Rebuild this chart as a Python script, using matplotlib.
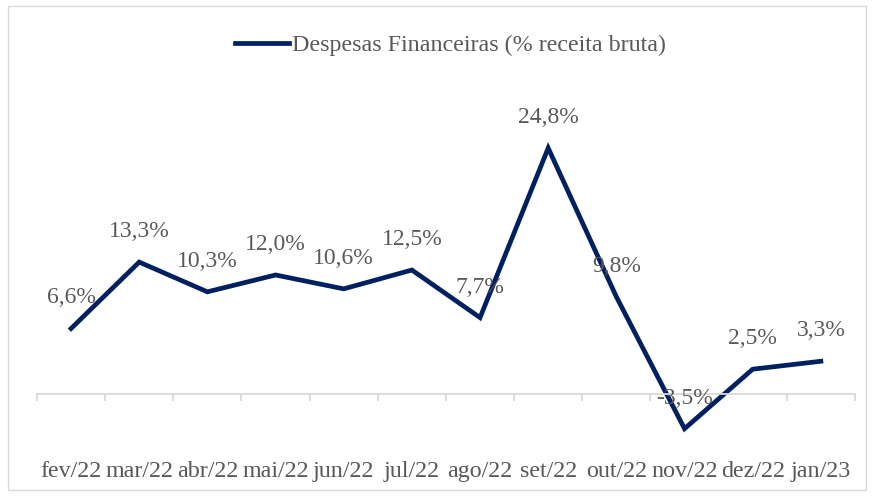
import matplotlib.pyplot as plt
from matplotlib.patches import Rectangle

plt.rcParams['font.family'] = ['Liberation Serif', 'DejaVu Serif']

meses = ['fev/22', 'mar/22', 'abr/22', 'mai/22', 'jun/22', 'jul/22',
         'ago/22', 'set/22', 'out/22', 'nov/22', 'dez/22', 'jan/23']
despesas = [6.6, 13.3, 10.3, 12.0, 10.6, 12.5, 7.7, 24.8, 9.8, -3.5, 2.5, 3.3]

cor_linha = '#002060'
cor_texto = '#595959'
cor_eixo = '#d9d9d9'

fig = plt.figure(figsize=(8.74, 4.96), dpi=100)
fig.patches.append(Rectangle((0.009, 0.012), 0.982, 0.976, transform=fig.transFigure,
                             fill=False, edgecolor=cor_eixo, linewidth=1))
ax = fig.add_axes([0.0423, 0.1129, 0.9359, 0.766])

x = list(range(len(meses)))
ax.plot(x, despesas, color=cor_linha, linewidth=3.4, solid_joinstyle='miter',
        label='Despesas Financeiras (% receita bruta)')

for xi, v in zip(x, despesas):
    txt = f'{v:.1f}%'.replace('.', ',')
    ax.annotate(txt, (xi, v), xytext=(0, 22), textcoords='offset points',
                ha='center', va='center', fontsize=17, color=cor_texto)

ax.set_xlim(-0.5, len(meses) - 0.5)
ax.set_ylim(-4.64, 33.67)

for s in ['top', 'left', 'right']:
    ax.spines[s].set_visible(False)
ax.spines['bottom'].set_position(('data', 0))
ax.spines['bottom'].set_color(cor_eixo)
ax.spines['bottom'].set_linewidth(1.3)
ax.set_yticks([])

ax.set_xticks(x)
ax.set_xticklabels(meses)
ax.tick_params(axis='x', which='major', length=0, pad=48, labelsize=17.3, labelcolor=cor_texto)
ax.set_xticks([i - 0.5 for i in range(len(meses) + 1)], minor=True)
ax.tick_params(axis='x', which='minor', length=5, width=1.3, color=cor_eixo, direction='out')

leg = fig.legend(loc='center', bbox_to_anchor=(0.5155, 0.909), frameon=False,
                 fontsize=17.3, handlelength=2.25, handletextpad=0.1)
for t in leg.get_texts():
    t.set_color(cor_texto)

fig.savefig('out.png', dpi=100)
